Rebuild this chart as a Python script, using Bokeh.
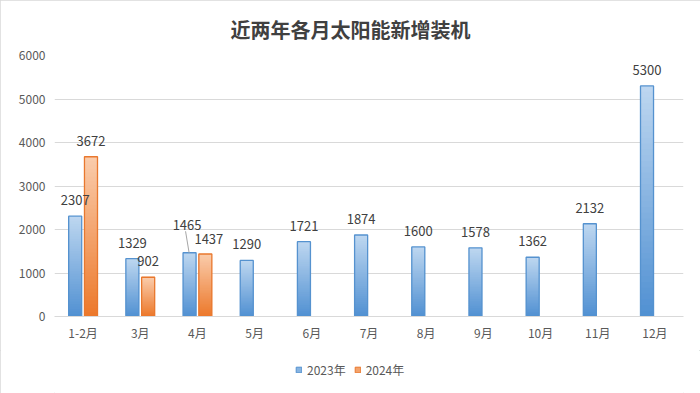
from bokeh.plotting import figure
from bokeh.layouts import column
from bokeh.models import (ColumnDataSource, FactorRange, Range1d, FixedTicker,
                          Legend, LegendItem, Title)
from bokeh.transform import dodge
from bokeh.core.properties import value
from bokeh.embed import file_html
from bokeh.resources import INLINE

# ---------------- data ----------------
months = ["1-2月", "3月", "4月", "5月", "6月", "7月", "8月", "9月", "10月", "11月", "12月"]
values_2023 = [2307, 1329, 1465, 1290, 1721, 1874, 1600, 1578, 1362, 2132, 5300]
months_2024 = ["1-2月", "3月", "4月"]
values_2024 = [3672, 902, 1437]
y_ticks = [0, 1000, 2000, 3000, 4000, 5000, 6000]
title_text = "近两年各月太阳能新增装机"
series_names = ["2023年", "2024年"]

# ---------------- style ----------------
FONT = "Noto Sans CJK SC"
W = 700
MAIN_H, FOOT_H = 350, 43
FRAME_W, FRAME_H = 629, 261
BL, BT = 54, 55
BR = W - BL - FRAME_W
BB = MAIN_H - BT - FRAME_H
OFF = 0.138
BAR_W = 0.228
NSEG = 40

blue_top, blue_bot, blue_line = (190, 215, 240), (80, 144, 210), "#5592cf"
orng_top, orng_bot, orng_line = (250, 204, 172), (236, 120, 42), "#e9782e"


def hexc(c):
    return "#%02x%02x%02x" % tuple(int(round(v)) for v in c)


def lerp(a, b, t):
    return tuple(a[k] + (b[k] - a[k]) * t for k in range(3))


p = figure(x_range=FactorRange(factors=months, range_padding=0),
           y_range=Range1d(0, 6000),
           width=W, height=MAIN_H, output_backend="svg", toolbar_location=None,
           min_border_left=BL, min_border_right=BR, min_border_top=BT,
           min_border_bottom=BB, title=None)
p.outline_line_color = None
p.background_fill_color = "white"
p.border_fill_color = "white"

units_per_px = 6000 / FRAME_H


def gradient_bars(cats, vals, offset, top_c, bot_c, line_c):
    xs, bots, tops, cols = [], [], [], []
    for c, v in zip(cats, vals):
        for i in range(NSEG):
            xs.append(c)
            bots.append(v * i / NSEG)
            t = v * (i + 1) / NSEG
            if i < NSEG - 1:
                t += 1.5 * units_per_px
            tops.append(t)
            cols.append(hexc(lerp(bot_c, top_c, (i + 0.5) / NSEG)))
    src = ColumnDataSource(dict(x=xs, b=bots, t=tops, c=cols))
    p.vbar(x=dodge("x", offset, range=p.x_range), bottom="b", top="t",
           width=BAR_W, fill_color="c", line_color=None, source=src)
    osrc = ColumnDataSource(dict(x=cats, v=vals))
    p.vbar(x=dodge("x", offset, range=p.x_range), top="v", bottom=0,
           width=BAR_W, fill_color=None, line_color=line_c, line_width=1.3, source=osrc)


gradient_bars(months, values_2023, -OFF, blue_top, blue_bot, blue_line)
gradient_bars(months_2024, values_2024, OFF, orng_top, orng_bot, orng_line)

# data labels
xo23 = [0.0] * len(values_2023)
yo23 = [-16.0] * len(values_2023)
xo23[2], yo23[2] = -2.5, -27.5
src23 = ColumnDataSource(dict(x=months, y=values_2023, t=[str(v) for v in values_2023],
                              xo=xo23, yo=yo23))
p.text(x=dodge("x", -OFF, range=p.x_range), y="y", text="t", x_offset="xo", y_offset="yo",
       text_align="center", text_baseline="middle", text_font=value(FONT),
       text_font_size="13px", text_color="#404040", source=src23)

xo24 = [0.0, 0.0, 3.5]
yo24 = [-16.0, -16.0, -15.0]
src24 = ColumnDataSource(dict(x=months_2024, y=values_2024, t=[str(v) for v in values_2024],
                              xo=xo24, yo=yo24))
p.text(x=dodge("x", OFF, range=p.x_range), y="y", text="t", x_offset="xo", y_offset="yo",
       text_align="center", text_baseline="middle", text_font=value(FONT),
       text_font_size="13px", text_color="#404040", source=src24)

# leader line for the 4月 2023 label
lead_v = values_2023[2]
lsrc = ColumnDataSource(dict(x=[months[2]], y0=[lead_v + 21.5 * units_per_px], y1=[lead_v]))
p.segment(x0=dodge("x", -OFF - 0.07, range=p.x_range), y0="y0",
          x1=dodge("x", -OFF - 0.008, range=p.x_range), y1="y1",
          line_color="#a6a6a6", line_width=1, source=lsrc)

# axes
p.yaxis.ticker = FixedTicker(ticks=y_ticks)
p.yaxis.axis_line_color = None
p.yaxis.major_tick_line_color = None
p.yaxis.minor_tick_line_color = None
p.yaxis.major_label_standoff = 3
p.yaxis.major_label_text_font = FONT
p.yaxis.major_label_text_font_size = "12px"
p.yaxis.major_label_text_color = "#595959"

p.xaxis.axis_line_color = "#d9d9d9"
p.xaxis.major_tick_line_color = None
p.xaxis.minor_tick_line_color = None
p.xaxis.major_label_standoff = 1
p.xaxis.major_label_text_font = FONT
p.xaxis.major_label_text_font_size = "12px"
p.xaxis.major_label_text_color = "#595959"

p.xgrid.grid_line_color = None
p.ygrid.grid_line_color = "#d9d9d9"
p.ygrid.ticker = FixedTicker(ticks=y_ticks)

# title
p.add_layout(Title(text=title_text, align="left", offset=176,
                   text_font=FONT, text_font_size="20px", text_font_style="bold",
                   text_color="#404040", standoff=24), "above")

# legend in a footer strip
f = figure(width=W, height=FOOT_H, x_range=Range1d(0, 1), y_range=Range1d(0, 1),
           output_backend="svg", toolbar_location=None,
           x_axis_location=None, y_axis_location=None,
           min_border_left=0, min_border_right=0, min_border_top=0, min_border_bottom=0)
f.grid.visible = False
f.outline_line_color = None
f.background_fill_color = "white"
f.border_fill_color = "white"
nan = float("nan")
r1 = f.vbar(x=[nan], top=[nan], width=0.1,
            fill_color=hexc(lerp(blue_bot, blue_top, 0.5)), line_color=blue_line)
r2 = f.vbar(x=[nan], top=[nan], width=0.1,
            fill_color=hexc(lerp(orng_bot, orng_top, 0.5)), line_color=orng_line)
legend = Legend(items=[LegendItem(label=series_names[0], renderers=[r1]),
                       LegendItem(label=series_names[1], renderers=[r2])],
                orientation="horizontal", location=(241, 15),
                padding=0, margin=0, spacing=8, label_standoff=5,
                glyph_width=7, glyph_height=7, label_height=14,
                label_text_font=FONT, label_text_font_size="12px",
                label_text_color="#595959", border_line_color=None,
                background_fill_alpha=0)
f.add_layout(legend, "center")

layout = column(p, f, spacing=0,
                styles={"outline": "1px solid #d9d9d9", "outline-offset": "-1px"})
open("out.html", "w").write(file_html(layout, INLINE))
